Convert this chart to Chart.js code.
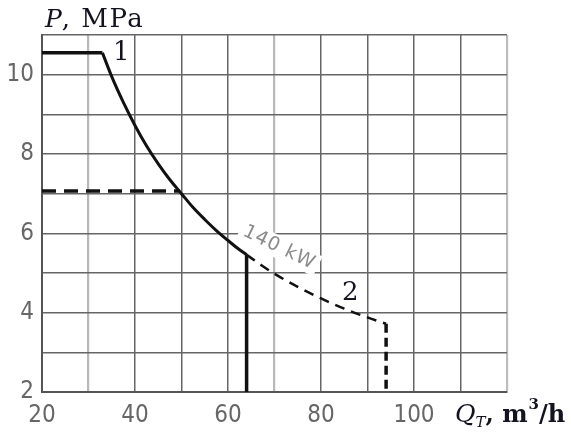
<!DOCTYPE html>
<html>
<head>
<meta charset="utf-8">
<script src="https://cdn.jsdelivr.net/npm/chart.js@4.4.1/dist/chart.umd.min.js"></script>
<style>
  html, body { margin: 0; padding: 0; background: #ffffff; }
  #wrap { width: 571px; height: 435px; position: relative; }
</style>
</head>
<body>
<div id="wrap"><canvas id="c" width="571" height="435"></canvas></div>
<script>
// ---- Data ----
// Curve 1 (solid): max pressure limit
const limit1PQ = [20, 33];
const limit1PP = [10.55, 10.55];
// Curve 1 (solid): 140 kW constant-power curve
const curve1Q = [33, 35, 37.5, 40, 42.5, 45, 47.5, 50, 52.5, 55, 57.5, 60, 62, 64];
const curve1P = [10.55, 9.95, 9.3, 8.72, 8.2, 7.75, 7.35, 7.0, 6.65, 6.35, 6.07, 5.82, 5.63, 5.46];
// Curve 1 flow limit (solid vertical)
const limit1Q = [64, 64];
const limit1P = [5.46, 2];
// Curve 2 pressure limit (dashed horizontal)
const limit2PQ = [20, 49.7];
const limit2PP = [7.07, 7.07];
// Curve 2 (dashed) continuation of 140 kW curve
const curve2Q = [64, 67.5, 70, 75, 80, 85, 90, 94];
const curve2P = [5.46, 5.17, 4.98, 4.65, 4.36, 4.1, 3.88, 3.72];
// Curve 2 flow limit (dashed vertical)
const limit2QQ = [94, 94];
const limit2QP = [3.72, 2];

// Axis ranges / ticks
const xMin = 20, xMax = 120, xStep = 10;
const yMin = 2, yMax = 11, yStep = 1;
const xLabelValues = [20, 40, 60, 80, 100];
const yLabelValues = [2, 4, 6, 8, 10];

// Texts
const curveLabels = ["1", "2"];
const powerLabel = "140 kW";
const yTitleVar = "P";
const yTitleUnit = ", MPa";
const xTitleVar = "Q";
const xTitleSub = "T";
const xTitleUnit = ", m";
const xTitleSup = "3";
const xTitleRest = "/h";

function pts(xs, ys) { return xs.map((x, i) => ({ x: x, y: ys[i] })); }

const tickFont = "'Liberation Sans Narrow', 'DejaVu Sans Condensed', 'Liberation Sans', sans-serif";
const serif = "'DejaVu Serif', 'Liberation Serif', serif";

const annotations = {
  id: 'annotations',
  beforeDatasetsDraw(chart) {
    const ctx = chart.ctx;
    const xs = chart.scales.x, ys = chart.scales.y;
    // 140 kW label with white backing (cuts the grid lines)
    const px = xs.getPixelForValue(71.0), py = ys.getPixelForValue(5.64);
    ctx.save();
    ctx.translate(px, py);
    ctx.rotate(26 * Math.PI / 180);
    ctx.font = "19px 'DejaVu Sans', sans-serif";
    if ('letterSpacing' in ctx) ctx.letterSpacing = '1px';
    const w = ctx.measureText(powerLabel).width;
    ctx.fillStyle = '#ffffff';
    ctx.fillRect(-w / 2 - 4, -11, w + 8, 22);
    ctx.fillStyle = '#8a8a8a';
    ctx.textAlign = 'center';
    ctx.textBaseline = 'middle';
    ctx.fillText(powerLabel, 0, 0);
    ctx.restore();
  },
  afterDraw(chart) {
    const ctx = chart.ctx;
    const xs = chart.scales.x, ys = chart.scales.y;
    ctx.save();
    ctx.fillStyle = '#141420';
    ctx.textAlign = 'center';
    ctx.textBaseline = 'middle';
    ctx.font = "26px " + serif;
    ctx.fillText(curveLabels[0], xs.getPixelForValue(37.05), ys.getPixelForValue(10.53));
    ctx.fillText(curveLabels[1], xs.getPixelForValue(86.3), ys.getPixelForValue(4.5));

    // Y title: "P, MPa"
    ctx.textAlign = 'left';
    ctx.textBaseline = 'alphabetic';
    let x = 45, y = 27;
    ctx.font = "italic 25px " + serif;
    ctx.fillText(yTitleVar, x, y);
    x += ctx.measureText(yTitleVar).width;
    ctx.font = "26px " + serif;
    if ('letterSpacing' in ctx) ctx.letterSpacing = '1.5px';
    ctx.fillText(yTitleUnit, x, y);
    if ('letterSpacing' in ctx) ctx.letterSpacing = '0px';

    // X title: "Q_T, m³/h"
    x = 455; y = 422;
    ctx.font = "italic 25px " + serif;
    ctx.fillText(xTitleVar, x, y);
    x += ctx.measureText(xTitleVar).width;
    ctx.font = "italic 15px " + serif;
    ctx.fillText(xTitleSub, x, y + 5);
    x += ctx.measureText(xTitleSub).width;
    ctx.font = "bold 24px " + serif;
    ctx.fillText(xTitleUnit, x, y);
    x += ctx.measureText(xTitleUnit).width;
    ctx.font = "bold 15px " + serif;
    ctx.fillText(xTitleSup, x + 1, y - 13);
    x += ctx.measureText(xTitleSup).width + 1;
    ctx.font = "bold 24px " + serif;
    ctx.fillText(xTitleRest, x, y);
    ctx.restore();
  }
};

const base = { borderColor: '#111111', pointRadius: 0, fill: false, showLine: true, tension: 0 };
const smooth = { tension: 0.35, cubicInterpolationMode: 'monotone' };

new Chart(document.getElementById('c'), {
  type: 'scatter',
  data: {
    datasets: [
      Object.assign({}, base, { data: pts(limit1PQ, limit1PP), borderWidth: 3.5 }),
      Object.assign({}, base, smooth, { data: pts(curve1Q, curve1P), borderWidth: 3 }),
      Object.assign({}, base, { data: pts(limit1Q, limit1P), borderWidth: 3.5 }),
      Object.assign({}, base, { data: pts(limit2PQ, limit2PP), borderWidth: 3.5, borderDash: [14, 8] }),
      Object.assign({}, base, smooth, { data: pts(curve2Q, curve2P), borderWidth: 2.5, borderDash: [10, 7] }),
      Object.assign({}, base, { data: pts(limit2QQ, limit2QP), borderWidth: 3.5, borderDash: [9, 5] })
    ]
  },
  options: {
    responsive: false,
    animation: false,
    events: [],
    layout: { padding: { left: 0, right: 64, top: 35, bottom: 0 } },
    plugins: { legend: { display: false }, tooltip: { enabled: false } },
    scales: {
      x: {
        type: 'linear', min: xMin, max: xMax,
        afterFit(s) { s.height = 43; },
        ticks: {
          stepSize: xStep, padding: 9, color: '#666666',
          font: { family: tickFont, size: 24 },
          maxRotation: 0, autoSkip: false,
          callback: v => xLabelValues.includes(v) ? String(v) : ''
        },
        grid: {
          drawTicks: false,
          color: c => (c.tick && (c.tick.value === 30 || c.tick.value === 70)) ? '#b8b8b8' : (c.tick && c.tick.value === 120 ? '#bdbdbd' : '#666666'),
          lineWidth: c => (c.tick && (c.tick.value === 30 || c.tick.value === 70 || c.tick.value === 120)) ? 2.2 : 1.5
        },
        border: { display: true, color: '#555555', width: 2 }
      },
      y: {
        type: 'linear', min: yMin, max: yMax,
        afterFit(s) { s.width = 42; },
        ticks: {
          stepSize: yStep, padding: 8, color: '#666666',
          font: { family: tickFont, size: 24 },
          autoSkip: false,
          callback: v => yLabelValues.includes(v) ? String(v) : ''
        },
        grid: { drawTicks: false, color: '#666666', lineWidth: 1.5 },
        border: { display: true, color: '#555555', width: 2 }
      }
    }
  },
  plugins: [annotations]
});
</script>
</body>
</html>
